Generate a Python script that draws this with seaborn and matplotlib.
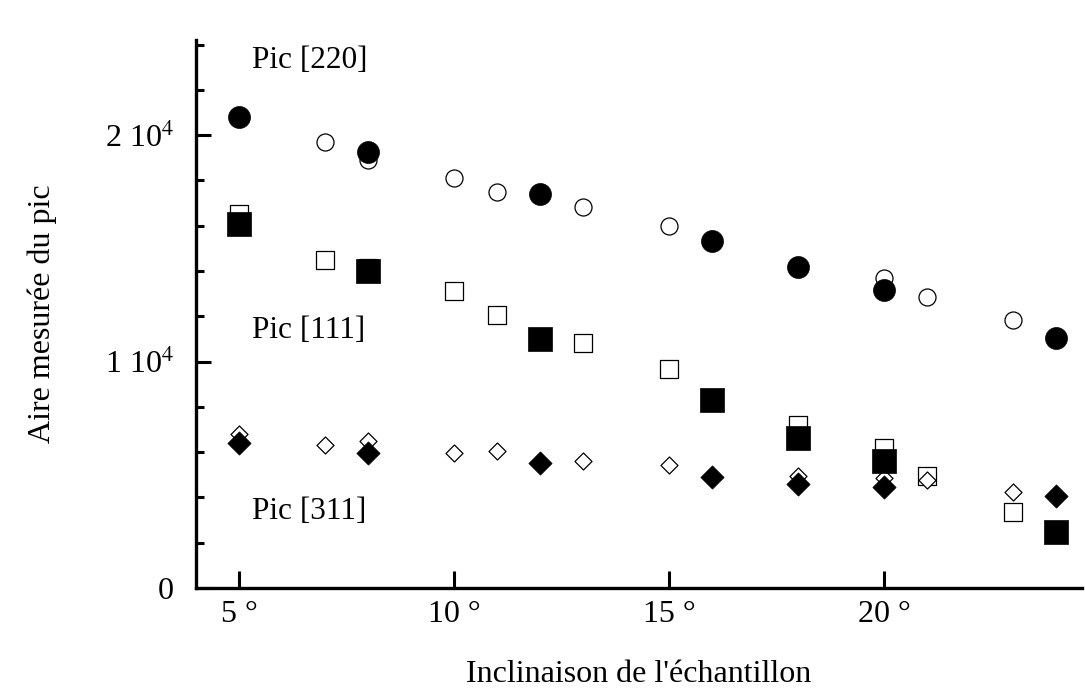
import matplotlib
matplotlib.use("Agg")
import matplotlib.pyplot as plt
import seaborn as sns
import numpy as np
from matplotlib.ticker import MultipleLocator, FixedLocator

# ---- data ----
x_220_open = [7, 8, 10, 11, 13, 15, 20, 21, 23]
y_220_open = [19700, 18900, 18120, 17470, 16810, 15980, 13670, 12840, 11830]
x_220_fill = [5, 8, 12, 16, 18, 20, 24]
y_220_fill = [20790, 19260, 17380, 15330, 14190, 13140, 11050]

x_111_open = [5, 7, 8, 10, 11, 13, 15, 18, 20, 21, 23]
y_111_open = [16500, 14500, 14150, 13100, 12050, 10830, 9690, 7200, 6200, 4930, 3360]
x_111_fill = [5, 8, 12, 16, 18, 20, 24]
y_111_fill = [16070, 14020, 11000, 8300, 6640, 5630, 2490]

x_311_open = [5, 7, 8, 10, 11, 13, 15, 18, 20, 21, 23]
y_311_open = [6810, 6330, 6500, 5940, 6030, 5630, 5410, 4930, 4850, 4760, 4240]
x_311_fill = [5, 8, 12, 16, 18, 20, 24]
y_311_fill = [6420, 5980, 5500, 4890, 4590, 4450, 4060]

x_ticks = [5, 10, 15, 20]
x_ticklabels = ["5 °", "10 °", "15 °", "20 °"]
y_ticks = [0, 10000, 20000]
y_ticklabels = ["0", "1 10$^4$", "2 10$^4$"]

annotations = ["Pic [220]", "Pic [111]", "Pic [311]"]
annot_x = [5.3, 5.3, 5.3]
annot_y = [23300, 11350, 3400]

# ---- style ----
sns.set_theme(style="white")
plt.rcParams["font.family"] = ["Liberation Serif", "DejaVu Serif"]
plt.rcParams["mathtext.fontset"] = "stix"
for k in ["text.color", "axes.labelcolor", "xtick.color", "ytick.color"]:
    plt.rcParams[k] = "black"

fig = plt.figure(figsize=(10.85, 6.92), dpi=100)
ax = fig.add_axes([0.1806, 0.1503, 0.8166, 0.7919])

def sc(x, y, marker, s, filled):
    if filled:
        sns.scatterplot(x=x, y=y, ax=ax, marker=marker, s=s, color="black",
                        edgecolor="black", linewidth=0.5, zorder=3)
    else:
        sns.scatterplot(x=x, y=y, ax=ax, marker=marker, s=s, facecolor="white",
                        edgecolor="black", linewidth=0.9, zorder=2)

sc(x_220_open, y_220_open, "o", 150, False)
sc(x_220_fill, y_220_fill, "o", 250, True)
sc(x_111_open, y_111_open, "s", 150, False)
sc(x_111_fill, y_111_fill, "s", 280, True)
sc(x_311_open, y_311_open, "D", 75, False)
sc(x_311_fill, y_311_fill, "D", 140, True)

for t, xx, yy in zip(annotations, annot_x, annot_y):
    ax.text(xx, yy, t, fontsize=22.5, va="center", ha="left", color="black")

ax.set_xlim(4.0, 24.6)
ax.set_ylim(0, 24200)

ax.xaxis.set_major_locator(FixedLocator(x_ticks))
ax.set_xticklabels(x_ticklabels)
ax.yaxis.set_major_locator(FixedLocator(y_ticks))
ax.set_yticklabels(y_ticklabels)
ax.yaxis.set_minor_locator(MultipleLocator(2000))

ax.tick_params(axis="x", which="major", direction="in", length=12, width=2.2,
               labelsize=23, pad=9, bottom=True)
ax.tick_params(axis="y", which="major", direction="in", length=11, width=2.2,
               labelsize=23, pad=16, left=True)
ax.tick_params(axis="y", which="minor", direction="in", length=5.5, width=2.2, left=True)

for side in ["top", "right"]:
    ax.spines[side].set_visible(False)
for side in ["left", "bottom"]:
    ax.spines[side].set_linewidth(2.4)
    ax.spines[side].set_color("black")

ax.set_xlabel("Inclinaison de l'échantillon", fontsize=23, labelpad=22)
ax.set_ylabel("Aire mesurée du pic", fontsize=23, labelpad=34)
ax.grid(False)

fig.savefig("out.png", dpi=100, facecolor="white")
